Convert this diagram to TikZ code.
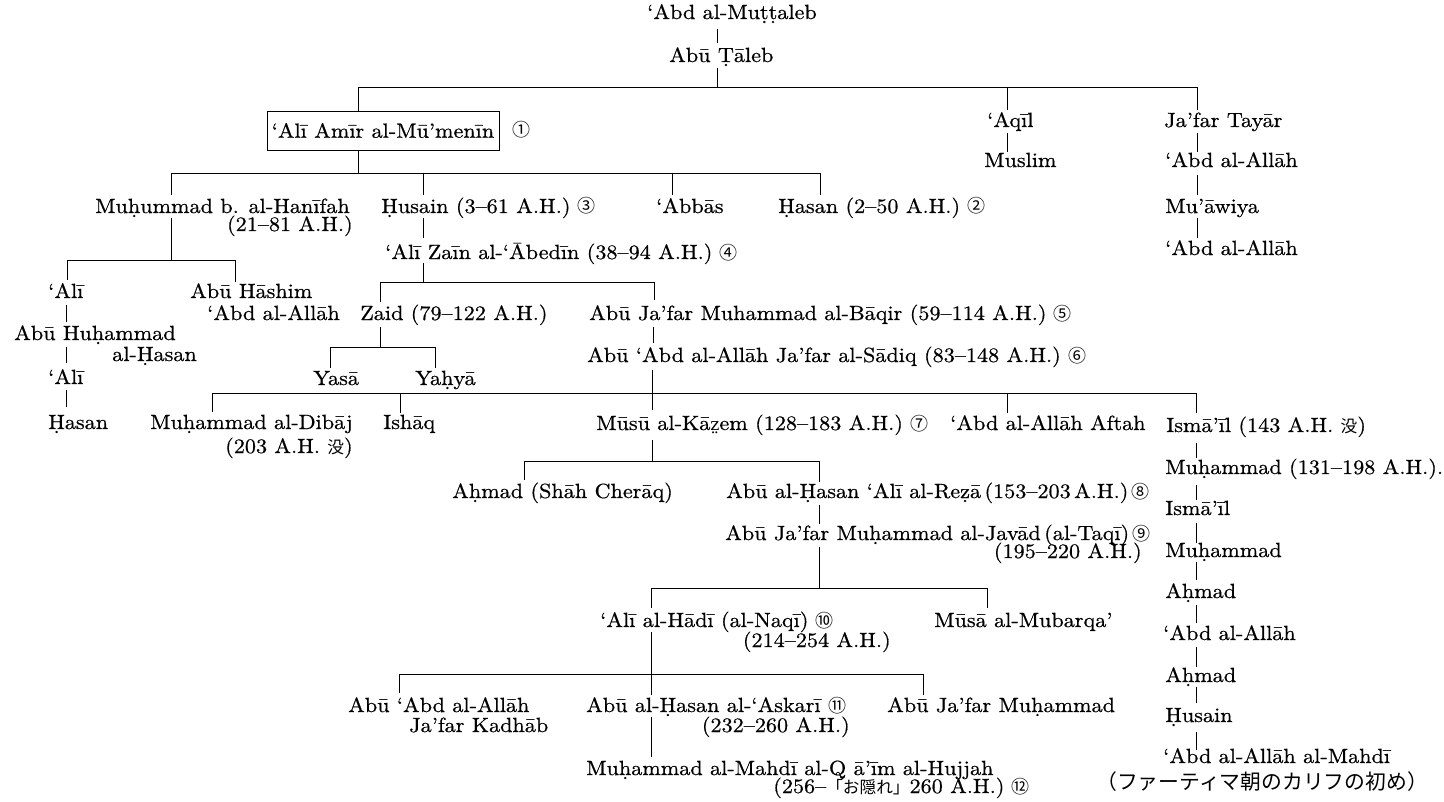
\documentclass[tikz,border=0pt]{standalone}
\usepackage{fontspec}
\setmainfont{lmroman10-regular}[Extension=.otf, FakeStretch=1.08, FakeBold=0.6]
\newfontfamily\cjk{Noto Sans CJK JP}
\newfontfamily\dvs{DejaVu Serif}
\newcommand\db[1]{#1^^^^0323}
\newcommand\ddb[1]{{\dvs\fontsize{12.9}{12.9}\selectfont #1^^^^0324}}
\newcommand\cn[1]{{\cjk\fontsize{13.5}{13.5}\selectfont #1}}
\newcommand\jp[1]{{\cjk\fontsize{12.5}{12.5}\selectfont #1}}
\newcommand\jpb[1]{{\cjk\fontsize{15.6}{15.6}\selectfont #1}}
\begin{document}
\begin{tikzpicture}[x=0.75pt,y=-0.75pt,
  every node/.style={font=\fontsize{15.4}{18}\selectfont},
  txt/.style={anchor=base west, inner sep=0pt},
  txte/.style={anchor=base east, inner sep=0pt},
  txtc/.style={anchor=base, inner sep=0pt},
  box/.style={draw, line width=0.7pt, inner sep=0pt, minimum width=174pt, minimum height=29.25pt},
  ln/.style={line width=0.7pt}]
\useasboundingbox (0,0) rectangle (1444,802);
% ---------------- nodes ----------------
\node[txt] (mut) at (647,19) {‘Abd al-Mu\db{t}\db{t}aleb};
\node[txt] (tal) at (669,62) {Abū \db{T}āleb};
\node[box] (ali) at (383,130.5) {‘Alī Amīr al-Mū’menīn};
\node[txtc] (n1) at (521,137) {\cn{①}};
\node[txt] (aqil) at (987,127) {‘Aqīl};
\node[txt] (muslim) at (984,167) {Muslim};
\node[txt] (jafar) at (1164,127) {Ja’far Tayār};
\node[txt] (jabd) at (1165,167) {‘Abd al-Allāh};
\node[txt] (muaw) at (1165,213) {Mu’āwiya};
\node[txt] (jabdb) at (1165,255) {‘Abd al-Allāh};
\node[txt] (hanif) at (95,213) {Mu\db{h}ummad b. al-Hanīfah};
\node[txte] (hanifd) at (353,231) {(21–81 A.H.)};
\node[txt] (husain) at (381,213) {\db{H}usain (3–61 A.H.) \cn{③}};
\node[txt] (abbas) at (656,213) {‘Abbās};
\node[txt] (hasan) at (778,213) {\db{H}asan (2–50 A.H.) \cn{②}};
\node[txt] (zain) at (385,259) {‘Alī Zaīn al-‘Ābedīn (38–94 A.H.) \cn{④}};
\node[txt] (aliA) at (48,298) {‘Alī};
\node[txt] (hashim) at (190,298) {Abū Hāshim};
\node[txt] (hashimb) at (207,320) {‘Abd al-Allāh};
\node[txt] (huham) at (14,340) {Abū Hu\db{h}ammad};
\node[txt] (huhamb) at (112,361) {al-\db{H}asan};
\node[txt] (aliB) at (48,384) {‘Alī};
\node[txt] (hasanB) at (48,429) {\db{H}asan};
\node[txt] (zaid) at (360,320) {Zaid (79–122 A.H.)};
\node[txt] (baqir) at (589,320) {Abū Ja’far Muhammad al-Bāqir (59–114 A.H.) \cn{⑤}};
\node[txt] (yasa) at (313,385) {Yasā};
\node[txt] (yahya) at (415,385) {Ya\db{h}yā};
\node[txt] (sadiq) at (587,362) {Abū ‘Abd al-Allāh Ja’far al-Sādiq (83–148 A.H.) \cn{⑥}};
\node[txt] (dibaj) at (150,429) {Mu\db{h}ammad al-Dibāj};
\node[txte] (dibajd) at (353,453) {(203 A.H. \jp{没})};
\node[txt] (ishaq) at (383,429) {Ishāq};
\node[txt] (kazem) at (596,430) {Mūsū al-Kā\ddb{z}em (128–183 A.H.) \cn{⑦}};
\node[txt] (aftah) at (950,430) {‘Abd al-Allāh Aftah};
\node[txt] (ismail) at (1166,432) {Ismā’īl (143 A.H. \jp{没})};
\node[txt] (imA) at (1165,474) {Mu\db{h}ammad (131–198 A.H.).};
\node[txt] (imB) at (1165,515) {Ismā’īl};
\node[txt] (imC) at (1165,557) {Mu\db{h}ammad};
\node[txt] (imD) at (1165,598) {A\db{h}mad};
\node[txt] (imE) at (1163,640) {‘Abd al-Allāh};
\node[txt] (imF) at (1165,682) {A\db{h}mad};
\node[txt] (imG) at (1165,722) {\db{H}usain};
\node[txt] (imH) at (1163,763) {‘Abd al-Allāh al-Mahdī};
\node[txt] (fat) at (1096,789) {\jpb{（ファーティマ朝のカリフの初め）}};
\node[txt] (shah) at (452,498) {A\db{h}mad (Shāh Cherāq)};
\node[txt] (reza) at (726,498) {Abū al-\db{H}asan ‘Alī al-Re\db{z}ā\,(153–203\,A.H.)\,\cn{⑧}};
\node[txt] (javad) at (725,540) {Abū Ja’far Mu\db{h}ammad al-Javād\,(al-Taqī)\,\cn{⑨}};
\node[txte] (javadd) at (1142,558) {(195–220 A.H.)};
\node[txt] (hadi) at (600,627) {‘Alī al-Hādī (al-Naqī) \cn{⑩}};
\node[txte] (hadid) at (891,647) {(214–254 A.H.)};
\node[txt] (mubar) at (934,627) {Mūsā al-Mubarqa’};
\node[txt] (kadh) at (348,712) {Abū ‘Abd al-Allāh};
\node[txt] (kadhb) at (409,732) {Ja’far Kadhāb};
\node[txt] (askari) at (586,712) {Abū al-\db{H}asan al-‘Askarī \cn{⑪}};
\node[txte] (askarid) at (850,732) {(232–260 A.H.)};
\node[txt] (abujm) at (887,712) {Abū Ja’far Mu\db{h}ammad};
\node[txt] (mahdi) at (586,775) {Mu\db{h}ammad al-Mahdī al-Q ā’īm al-Hujjah};
\node[txt] (mahdid) at (773,793) {(256–\jp{「お隠れ」}260 A.H.) \cn{⑫}};
% ---------------- junctions ----------------
\coordinate (A1) at (358,87);  \coordinate (A2) at (1197,87);
\coordinate (B1) at (171,173); \coordinate (B2) at (820,173);
\coordinate (C1) at (67,260);  \coordinate (C2) at (235,260);
\coordinate (D1) at (380,282); \coordinate (D2) at (654,282);
\coordinate (E1) at (330,347); \coordinate (E2) at (435,347);
\coordinate (F1) at (212,393); \coordinate (F2) at (1196,393);
\coordinate (G1) at (524,461); \coordinate (G2) at (819,461);
\coordinate (H1) at (651,588); \coordinate (H2) at (987,588);
\coordinate (I1) at (399,674); \coordinate (I2) at (923,674);
\begin{scope}[ln]
% bars
\draw (A1) -- (A2); \draw (B1) -- (B2); \draw (C1) -- (C2);
\draw (D1) -- (D2); \draw (E1) -- (E2); \draw (F1) -- (F2);
\draw (G1) -- (G2); \draw (H1) -- (H2); \draw (I1) -- (I2);
% top
\draw (717,29) -- (717,43);
\draw (717,68) -- (717,87);
\draw (A1) -- (ali.north -| A1);
\draw (1007,87) -- (1007,110);
\draw (A2) -- (1197,110);
\draw (1007,133) -- (1007,152);
\draw (1197,133) -- (1197,152);
\draw (1197,175) -- (1197,195);
\draw (1197,218) -- (1197,238);
\draw (ali.south -| A1) -- (358,173);
% Ali's children
\draw (B1) -- (171,195);
\draw (423,173) -- (423,195);
\draw (672,173) -- (672,195);
\draw (B2) -- (820,195);
% Muhammad b. al-Hanifah
\draw (171,218) -- (171,260);
\draw (C1) -- (67,280);
\draw (C2) -- (235,282);
\draw (66,305) -- (66,322);
\draw (66,347) -- (66,363);
\draw (66,390) -- (66,407);
% Husain
\draw (423,218) -- (423,238);
\draw (423,263) -- (423,282);
\draw (D1) -- (380,302);
\draw (D2) -- (654,300);
\draw (380,327) -- (380,347);
\draw (E1) -- (330,368);
\draw (E2) -- (435,368);
\draw (653,327) -- (653,343);
\draw (652,370) -- (652,393);
% Sadiq's children
\draw (F1) -- (212,412);
\draw (400,393) -- (400,413);
\draw (652,393) -- (652,410);
\draw (1007,393) -- (1007,413);
\draw (F2) -- (1196,413);
% Isma'il chain
\draw (1196,443) -- (1196,458);
\draw (1196,485) -- (1196,500);
\draw (1196,523) -- (1196,543);
\draw (1196,562) -- (1196,580);
\draw (1196,605) -- (1196,623);
\draw (1196,647) -- (1196,667);
\draw (1196,687) -- (1196,703);
\draw (1196,732) -- (1196,750);
% Kazem
\draw (652,440) -- (652,461);
\draw (G1) -- (524,480);
\draw (G2) -- (819,482);
\draw (819,505) -- (819,524);
\draw (819,547) -- (819,588);
\draw (H1) -- (651,608);
\draw (H2) -- (987,608);
\draw (651,632) -- (651,674);
\draw (I1) -- (399,693);
\draw (651,674) -- (651,695);
\draw (I2) -- (923,695);
\draw (651,717) -- (651,757);
\end{scope}
\end{tikzpicture}
\end{document}
